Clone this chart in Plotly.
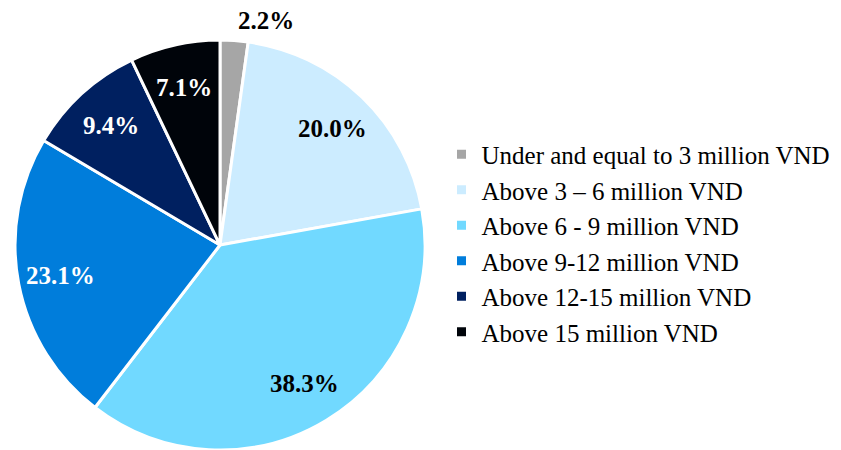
import math
import plotly.graph_objects as go

# Monthly income groups and their shares (%)
categories = [
    "Under and equal to 3 million VND",
    "Above 3 \u2013 6 million VND",
    "Above 6 - 9 million VND",
    "Above 9-12 million VND",
    "Above 12-15 million VND",
    "Above 15 million VND",
]
shares = [2.2, 20.0, 38.3, 23.1, 9.4, 7.1]
colors = ["#A6A6A6", "#CCECFF", "#71D9FF", "#007DDB", "#002060", "#00040A"]
label_colors = ["#000000", "#000000", "#000000", "#FFFFFF", "#FFFFFF", "#FFFFFF"]
label_outside = [True, False, False, False, False, False]

serif = "Liberation Serif"
W, H = 841, 450
dom_x = [0.0155, 0.5077]
dom_y = [0.0, 0.911]

fig = go.Figure(
    go.Pie(
        labels=categories,
        values=shares,
        sort=False,
        direction="clockwise",
        rotation=0,
        marker=dict(colors=colors, line=dict(color="#FFFFFF", width=3)),
        textinfo="none",
        hoverinfo="label+value",
        domain=dict(x=dom_x, y=dom_y),
    )
)

# Percentage labels placed along each slice's mid-angle
cx = (dom_x[0] + dom_x[1]) / 2 * W
cy = (dom_y[0] + dom_y[1]) / 2 * H
radius = min((dom_x[1] - dom_x[0]) * W, (dom_y[1] - dom_y[0]) * H) / 2
total = sum(shares)
start = 0.0
for val, col, outside in zip(shares, label_colors, label_outside):
    mid = (start + val / 2) / total * 2 * math.pi
    start += val
    frac = 1.1 if outside else 0.79
    px = cx + frac * radius * math.sin(mid)
    py = cy + frac * radius * math.cos(mid)
    if outside:
        anchor = "left" if math.sin(mid) >= 0 else "right"
    else:
        anchor = "center"
    fig.add_annotation(
        x=px / W,
        y=py / H,
        xref="paper",
        yref="paper",
        text=f"<b>{val:.1f}%</b>",
        showarrow=False,
        font=dict(family=serif, size=25, color=col),
        xanchor=anchor,
        yanchor="middle",
    )

fig.update_layout(
    width=W,
    height=H,
    margin=dict(l=0, r=0, t=0, b=0),
    paper_bgcolor="#FFFFFF",
    plot_bgcolor="#FFFFFF",
    showlegend=True,
    legend=dict(
        x=0.525,
        y=0.46,
        xanchor="left",
        yanchor="middle",
        font=dict(family=serif, size=25, color="#000000"),
        bgcolor="rgba(0,0,0,0)",
    ),
)

fig.write_html("out.html")
